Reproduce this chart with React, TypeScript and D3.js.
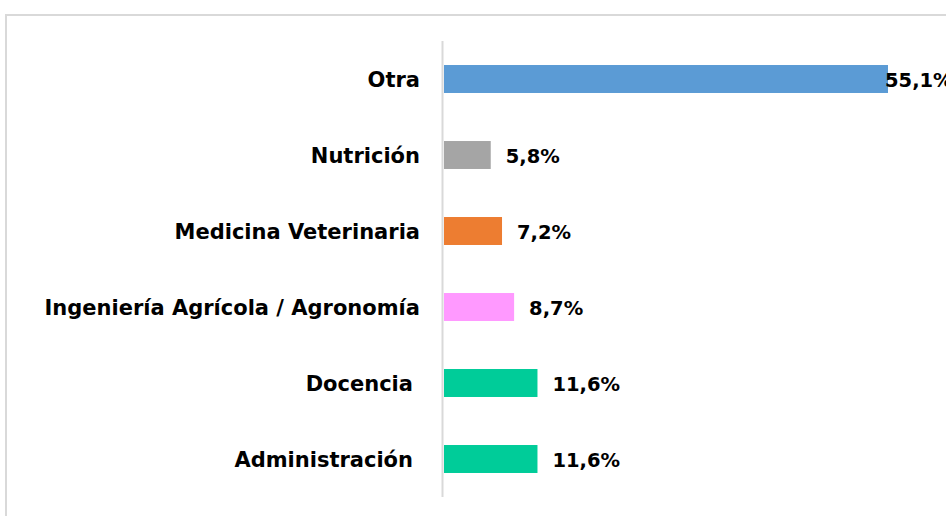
import React from "react";
import * as d3 from "d3";

const categories = [
  "Otra",
  "Nutrición",
  "Medicina Veterinaria",
  "Ingeniería Agrícola / Agronomía",
  "Docencia",
  "Administración",
];
const values = [55.1, 5.8, 7.2, 8.7, 11.6, 11.6];
const valueLabels = ["55,1%", "5,8%", "7,2%", "8,7%", "11,6%", "11,6%"];
const colors = ["#5B9BD5", "#A5A5A5", "#ED7D31", "#FF99FF", "#00CC99", "#00CC99"];
const trailingGap = [0, 0, 0, 0, 1, 1];

const W = 946;
const H = 516;

export default function App() {
  const x0 = 444;
  const x = d3.scaleLinear().domain([0, 55.1]).range([x0, 888]);
  const y = d3
    .scaleBand<string>()
    .domain(categories)
    .range([41, 497])
    .paddingInner(0.632)
    .paddingOuter(0.316);
  const font = "'DejaVu Sans', sans-serif";
  return (
    <svg
      width={W}
      height={H}
      style={{ position: "fixed", left: 0, top: 0, background: "#fff" }}
    >
      <rect x={0} y={0} width={W} height={H} fill="#fff" />
      <rect
        x={6}
        y={15}
        width={W + 10}
        height={H + 10}
        fill="none"
        stroke="#D9D9D9"
        strokeWidth={2}
      />
      <line x1={442.5} x2={442.5} y1={41} y2={497} stroke="#D9D9D9" strokeWidth={2} />
      {categories.map((c, i) => {
        const yb = y(c)!;
        const bh = y.bandwidth();
        const cy = yb + bh / 2;
        const end = x(values[i]);
        const lx = Math.min(end + 15, W - 61);
        return (
          <g key={c}>
            <rect x={x0} y={yb} width={end - x0} height={bh} fill={colors[i]} />
            <text
              x={420 - trailingGap[i] * 7}
              y={cy + 7.5}
              textAnchor="end"
              fontFamily={font}
              fontWeight="bold"
              fontSize={21}
              fill="#000"
            >
              {c}
            </text>
            <text
              x={lx}
              y={cy + 8}
              fontFamily={font}
              fontWeight="bold"
              fontSize={19.5}
              fill="#000"
            >
              {valueLabels[i]}
            </text>
          </g>
        );
      })}
    </svg>
  );
}
